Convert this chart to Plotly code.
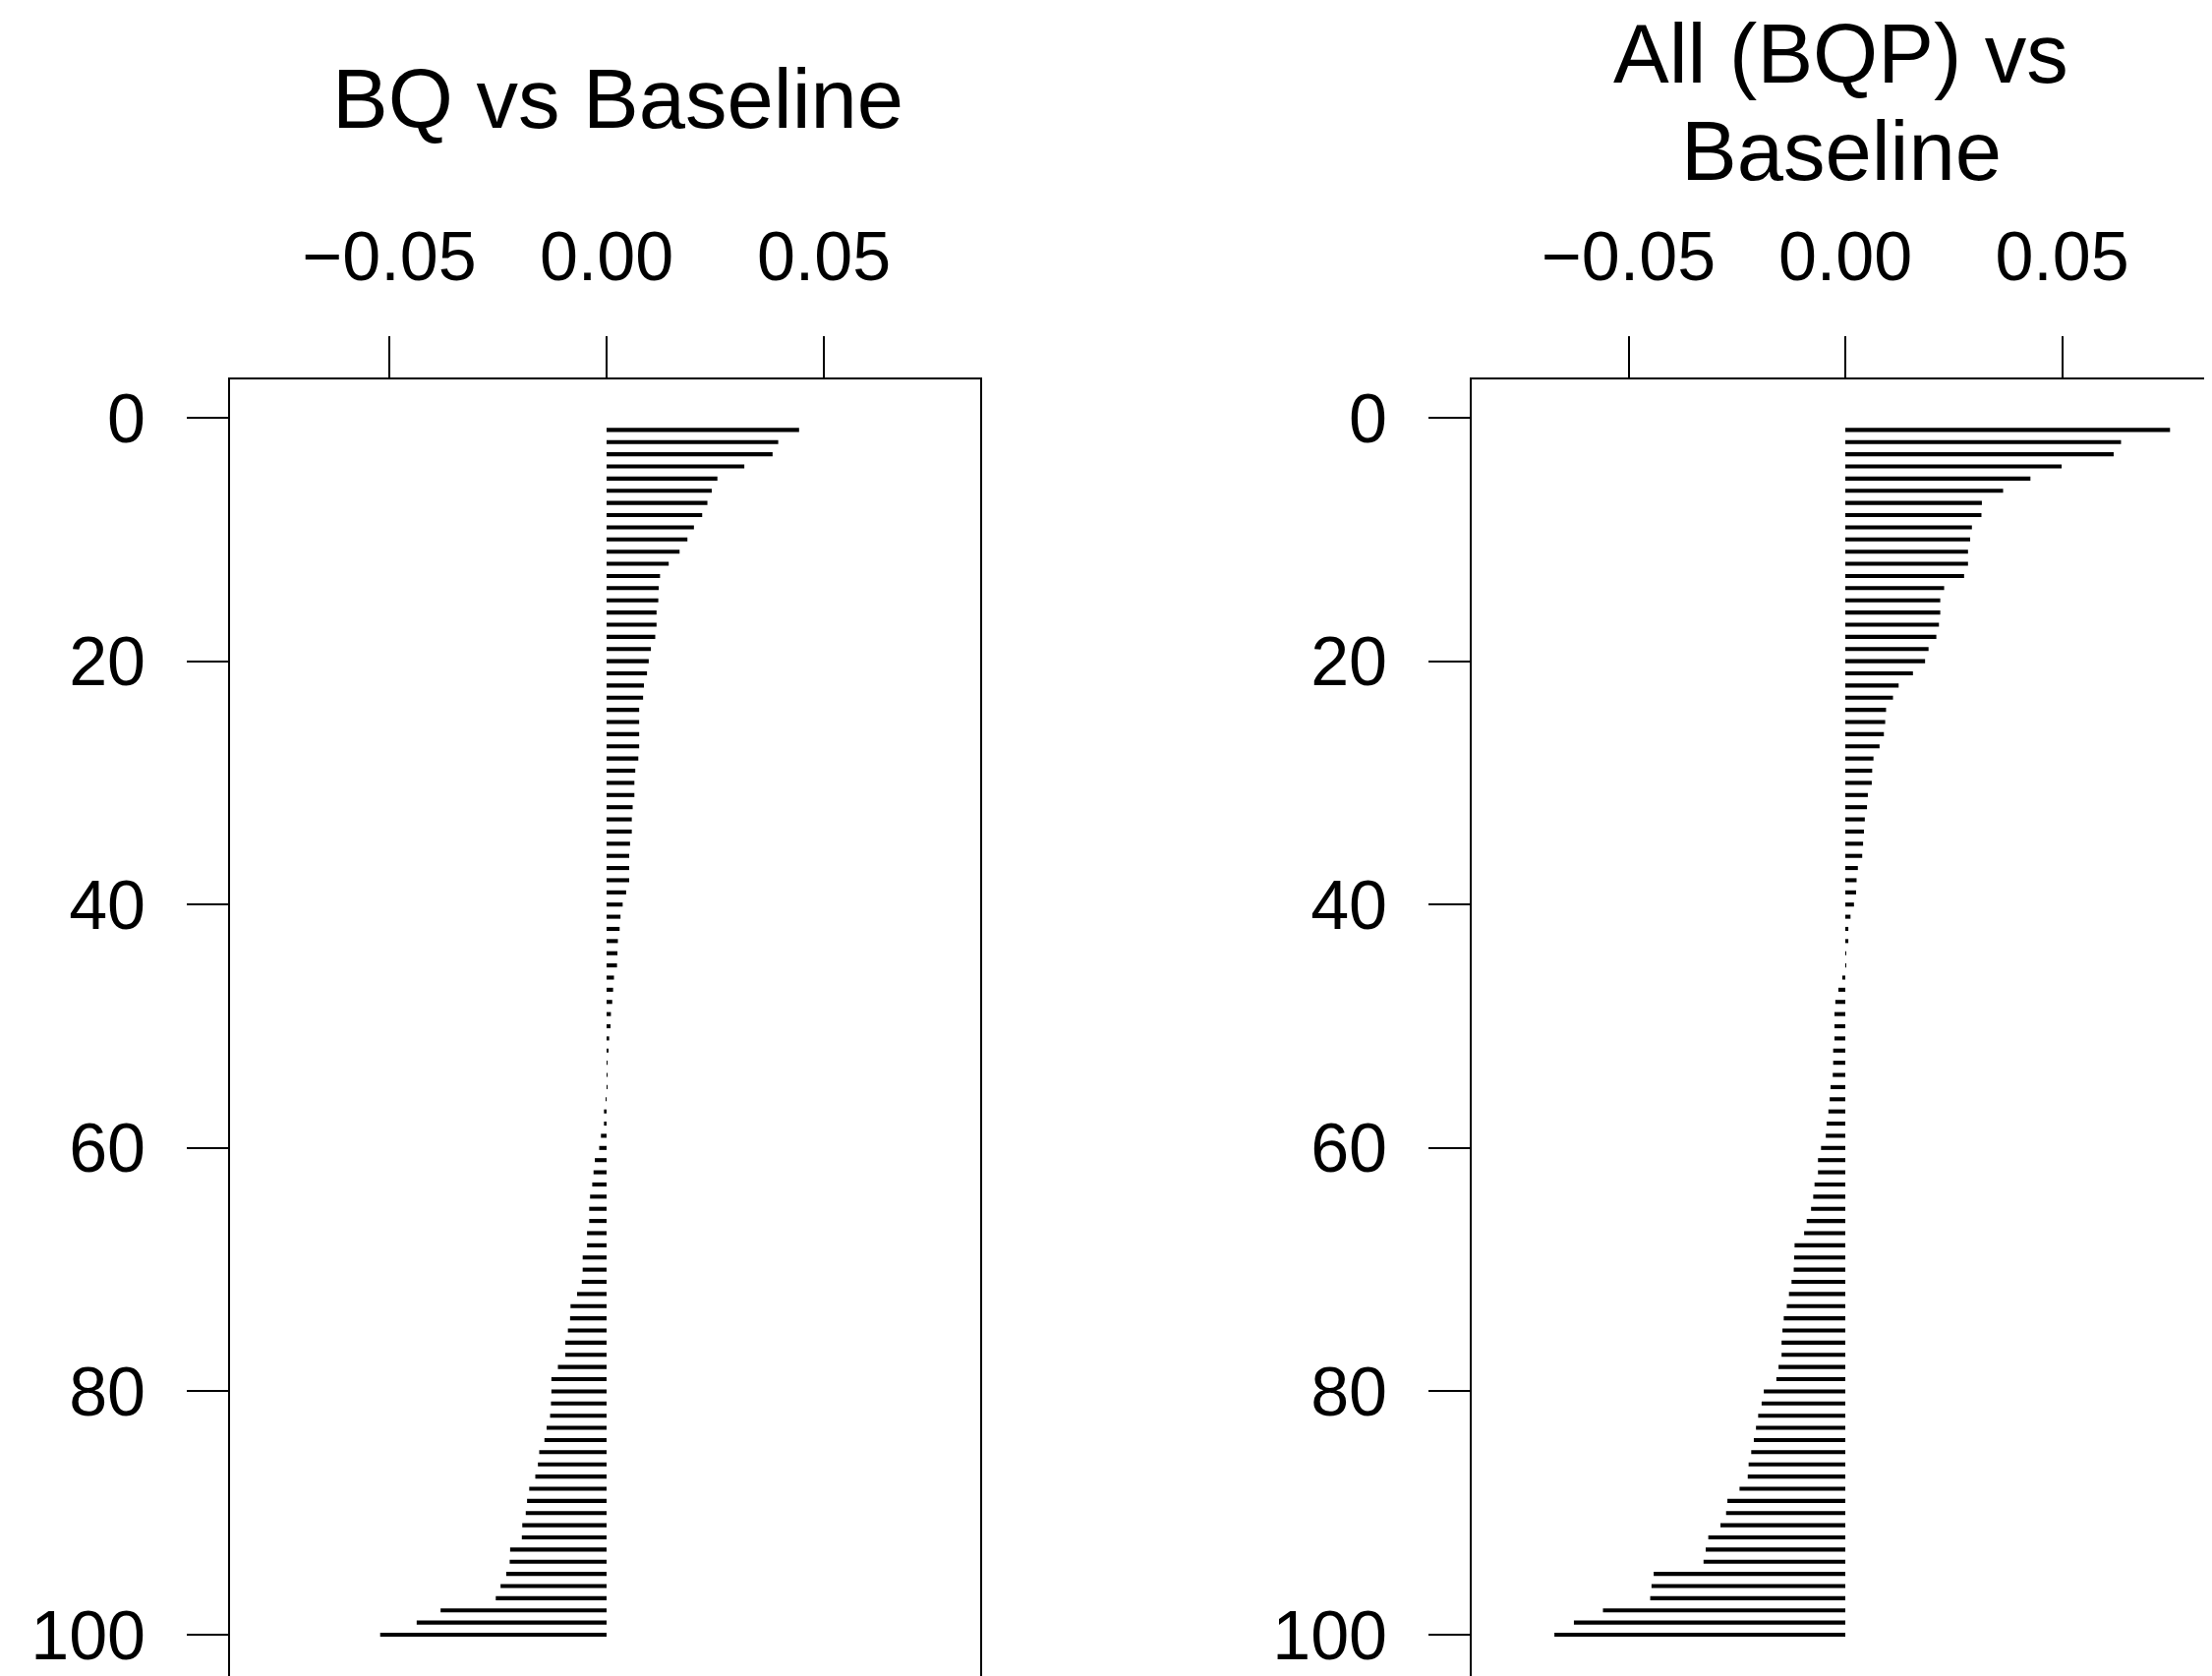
import plotly.graph_objects as go

# ---------------- data ----------------
ranks = list(range(1, 101))

bq_vs_baseline = [
    0.0443, 0.0395, 0.0382, 0.0317, 0.0255, 0.0242, 0.0232, 0.0220, 0.0201, 0.0186,
    0.0168, 0.0143, 0.0123, 0.0120, 0.0119, 0.0115, 0.0115, 0.0112, 0.0102, 0.0097,
    0.0093, 0.0086, 0.0084, 0.0075, 0.0075, 0.0075, 0.0075, 0.0073, 0.0066, 0.0064,
    0.0064, 0.0060, 0.0058, 0.0058, 0.0054, 0.0052, 0.0052, 0.0052, 0.0045, 0.0037,
    0.0032, 0.0030, 0.0026, 0.0025, 0.0024, 0.0017, 0.0015, 0.0013, 0.0010, 0.0009,
    0.0006, 0.0004, 0.0002, 0.0001, 0.00005, -0.0001, -0.0006, -0.0006, -0.0013, -0.0017,
    -0.0027, -0.0030, -0.0033, -0.0038, -0.0040, -0.0040, -0.0045, -0.0045, -0.0055, -0.0055,
    -0.0057, -0.0068, -0.0083, -0.0084, -0.0089, -0.0095, -0.0095, -0.0112, -0.0127, -0.0127,
    -0.0128, -0.0130, -0.0138, -0.0143, -0.0155, -0.0158, -0.0164, -0.0178, -0.0183, -0.0186,
    -0.0194, -0.0195, -0.0222, -0.0223, -0.0231, -0.0244, -0.0255, -0.0382, -0.0437, -0.0521,
]

all_bqp_vs_baseline = [
    0.0749, 0.0636, 0.0619, 0.0499, 0.0427, 0.0364, 0.0315, 0.0314, 0.0292, 0.0288,
    0.0283, 0.0283, 0.0274, 0.0228, 0.0219, 0.0219, 0.0216, 0.0210, 0.0192, 0.0184,
    0.0156, 0.0123, 0.0110, 0.0094, 0.0092, 0.0089, 0.0079, 0.0065, 0.0062, 0.0061,
    0.0052, 0.0050, 0.0045, 0.0043, 0.0041, 0.0039, 0.0029, 0.0026, 0.0025, 0.0020,
    0.0012, 0.0007, 0.0007, 0.0002, 0.0001, -0.0007, -0.0016, -0.0023, -0.0025, -0.0025,
    -0.0025, -0.0028, -0.0028, -0.0029, -0.0034, -0.0036, -0.0039, -0.0043, -0.0045, -0.0056,
    -0.0063, -0.0063, -0.0071, -0.0074, -0.0079, -0.0089, -0.0095, -0.0117, -0.0118, -0.0119,
    -0.0124, -0.0130, -0.0135, -0.0142, -0.0145, -0.0147, -0.0147, -0.0154, -0.0159, -0.0188,
    -0.0193, -0.0201, -0.0206, -0.0211, -0.0217, -0.0223, -0.0225, -0.0244, -0.0272, -0.0275,
    -0.0288, -0.0316, -0.0322, -0.0327, -0.0442, -0.0447, -0.0450, -0.0559, -0.0626, -0.0671,
]

x_tick_values = [-0.05, 0.0, 0.05]
y_tick_values = [0, 20, 40, 60, 80, 100]
title_left = "BQ vs Baseline"
title_right_lines = ["All (BQP) vs", "Baseline"]

# ---------------- layout helpers ----------------
# the page body has an 8px default margin, so the figure is 8px smaller
W, H = 2242, 1697
TOP = 378  # top of plotting box in figure px
FONT = "Liberation Sans, Arial, Helvetica, sans-serif"


def px_x(px):
    return px / W


def px_y(py):
    return (H - py) / (H - TOP)


fig = go.Figure()

fig.add_trace(go.Bar(x=bq_vs_baseline, y=ranks, orientation="h", width=0.33,
                     marker=dict(color="black", line=dict(width=0)),
                     xaxis="x", yaxis="y", showlegend=False))
fig.add_trace(go.Bar(x=all_bqp_vs_baseline, y=ranks, orientation="h", width=0.33,
                     marker=dict(color="black", line=dict(width=0)),
                     xaxis="x2", yaxis="y2", showlegend=False))

xcommon = dict(side="top", tickvals=x_tick_values, tickformat=".2f",
               ticks="outside", ticklen=42, tickwidth=2, tickcolor="black",
               showline=True, linewidth=2, linecolor="black",
               showgrid=False, zeroline=False,
               tickfont=dict(family=FONT, size=70, color="black"),
               ticklabelstandoff=29)
ycommon = dict(range=[103.39, -3.15], tickvals=y_tick_values,
               ticks="outside", ticklen=42, tickwidth=2, tickcolor="black",
               showline=True, linewidth=2, linecolor="black",
               showgrid=False, zeroline=False,
               tickfont=dict(family=FONT, size=70, color="black"),
               ticklabelstandoff=28, domain=[0, 1])

title_font = dict(family=FONT, size=85, color="black")

fig.update_layout(
    width=W, height=H,
    margin=dict(l=0, r=0, t=TOP, b=0, pad=0),
    paper_bgcolor="white", plot_bgcolor="white",
    xaxis=dict(domain=[px_x(226), px_x(989)], range=[-0.08665, 0.08597],
               anchor="y", **xcommon),
    xaxis2=dict(domain=[px_x(1489), 1.0], range=[-0.08617, 0.08458],
                anchor="y2", **xcommon),
    yaxis=dict(anchor="x", mirror=True, **ycommon),
    yaxis2=dict(anchor="x2", mirror=False, **ycommon),
    annotations=[
        dict(text=title_left, x=px_x(620.5), y=px_y(92), xref="paper", yref="paper",
             xanchor="center", yanchor="middle", showarrow=False, borderpad=0,
             font=title_font),
        dict(text=title_right_lines[0], x=px_x(1864), y=px_y(46.5), xref="paper",
             yref="paper", xanchor="center", yanchor="middle", showarrow=False,
             borderpad=0, font=title_font),
        dict(text=title_right_lines[1], x=px_x(1865), y=px_y(145), xref="paper",
             yref="paper", xanchor="center", yanchor="middle", showarrow=False,
             borderpad=0, font=title_font),
    ],
)

fig.write_html("out.html")
